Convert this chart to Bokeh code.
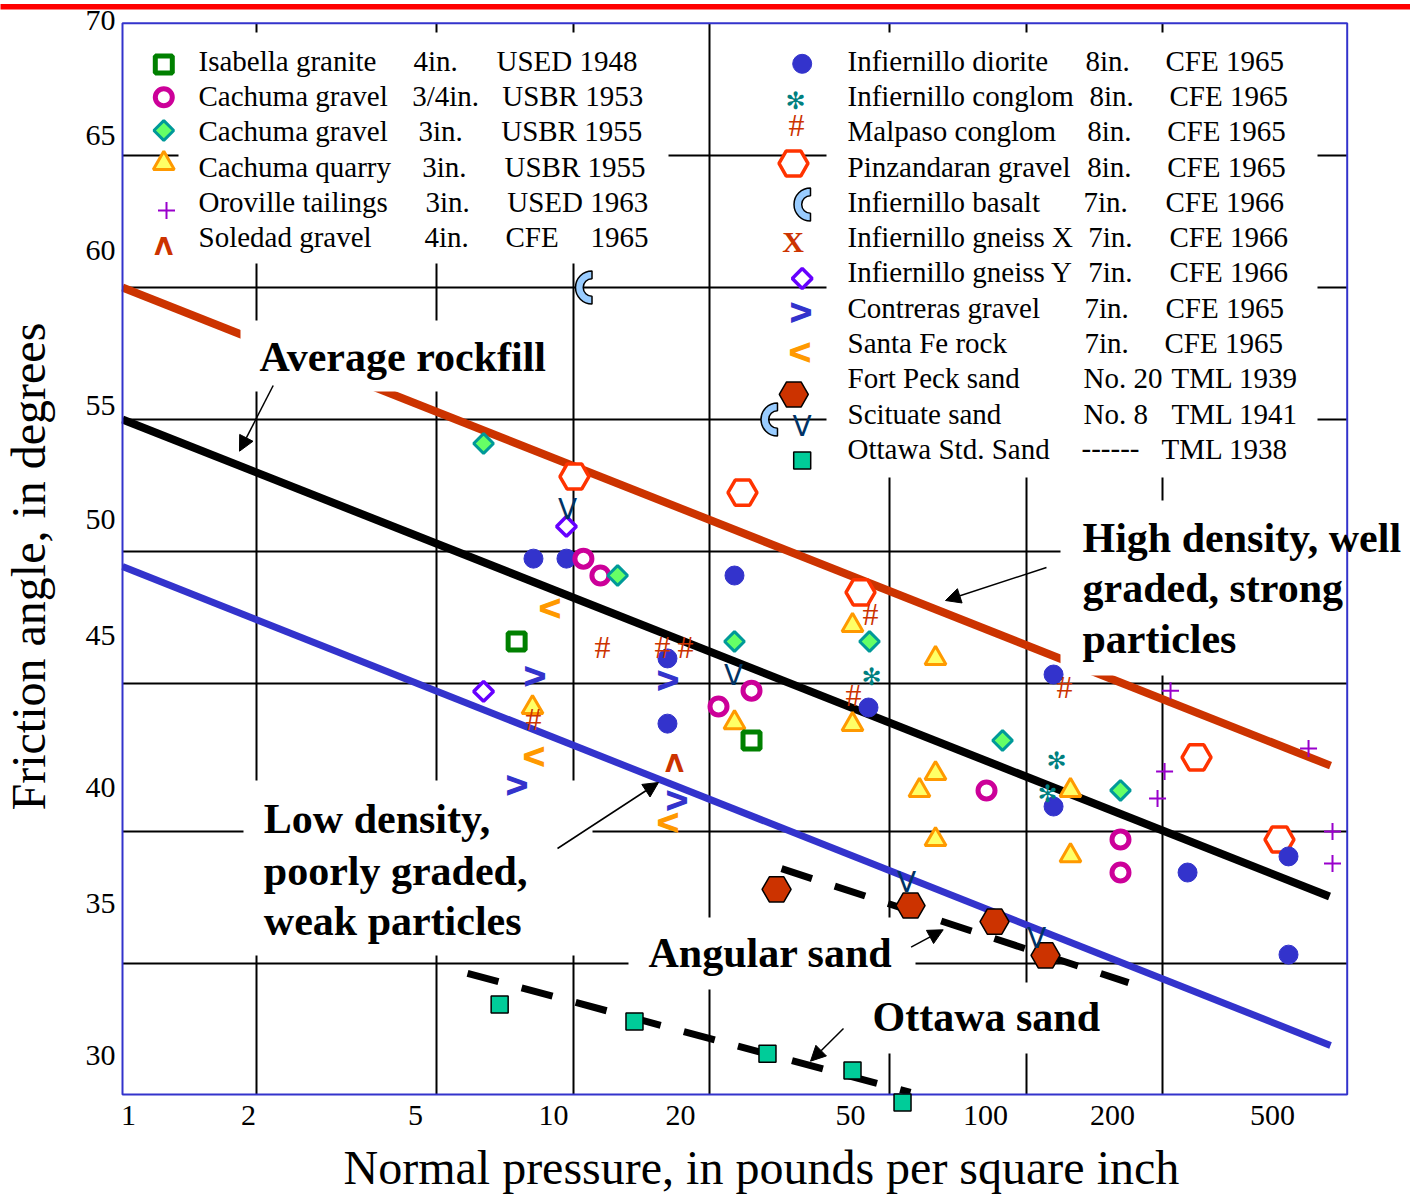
import numpy as np
from bokeh.plotting import figure
from bokeh.models import FixedTicker, Label, Arrow, NormalHead
from bokeh.core.properties import value
from bokeh.embed import file_html
from bokeh.resources import INLINE

# ---------------- data: normal pressure (psi) vs friction angle (deg) ----------------
isabella_x = [7.50, 24.74]
isabella_y = [46.59, 42.84]

cachuma34_x = [10.53, 11.48, 20.92, 24.74, 81.66, 161.3, 161.3]
cachuma34_y = [49.73, 49.09, 44.13, 44.73, 40.95, 39.09, 37.84]

cachuma3_x = [6.34, 12.53, 22.69, 45.06, 88.59, 161.3]
cachuma3_y = [54.09, 49.09, 46.59, 46.59, 42.84, 40.95]

quarry_x = [8.13, 22.69, 41.33, 63.01, 41.33, 63.01, 58.08, 125.1, 63.01, 125.1]
quarry_y = [44.09, 43.52, 47.20, 45.95, 43.45, 41.59, 40.95, 40.95, 39.09, 38.48]

oroville_x = [208.0, 419.4, 201.8, 194.7, 473.7, 473.7]
oroville_y = [44.73, 42.54, 41.67, 40.64, 39.39, 38.18]

soledad_x = [16.73]
soledad_y = [42.01]

diorite_x = [8.17, 9.66, 22.69, 16.14, 16.14, 44.83, 114.8, 114.8, 226.8, 378.8, 378.8]
diorite_y = [49.73, 49.73, 49.09, 45.95, 43.48, 44.09, 45.34, 40.34, 37.84, 38.45, 34.73]

conglom_x = [45.52, 116.6, 111.4]
conglom_y = [45.23, 42.08, 40.80]

malpaso_x = [11.60, 15.74, 17.69, 8.17, 45.29, 41.54, 121.4]
malpaso_y = [46.40, 46.40, 46.40, 43.67, 47.65, 44.55, 44.85]

pinzandaran_x = [10.06, 23.63, 43.04, 237.4, 361.8]
pinzandaran_y = [52.84, 52.23, 48.45, 42.20, 39.09]

basalt_x = [11.0, 28.23]
basalt_y = [60.0, 55.0]

gneissy_x = [9.66, 6.34]
gneissy_y = [50.95, 44.70]

contreras_x = [8.26, 16.22, 7.53, 16.99]
contreras_y = [45.27, 45.11, 41.14, 40.57]

santafe_x = [8.86, 8.17, 16.14]
santafe_y = [47.84, 42.23, 39.73]

fortpeck_x = [28.10, 55.50, 85.05, 110.2]
fortpeck_y = [37.20, 36.59, 35.98, 34.70]

scituate_x = [9.71, 22.58, 54.37, 105.3]
scituate_y = [51.59, 45.30, 37.46, 35.34]

ottawa_x = [6.88, 13.65, 26.83, 41.33, 53.29]
ottawa_y = [32.84, 32.20, 30.98, 30.34, 29.13]

# trend lines
high_x = [1.012, 469.0]
high_y = [60.0, 41.89]
avg_x = [1.012, 466.6]
avg_y = [55.0, 36.93]
low_x = [1.012, 469.0]
low_y = [49.43, 31.29]
angular_x = [28.82, 168.0]
angular_y = [37.99, 33.67]
ottline_x = [5.844, 55.50]
ottline_y = [34.02, 29.51]

# tick labels
XTICK_TEXT = ["1", "2", "5", "10", "20", "50", "100", "200", "500"]
YTICK_TEXT = ["70", "65", "60", "55", "50", "45", "40", "35", "30"]

# legend content
LEFT_NAMES = ["Isabella granite", "Cachuma gravel", "Cachuma gravel", "Cachuma quarry",
              "Oroville tailings", "Soledad gravel"]
LEFT_SIZES = ["4in.", "3/4in.", "3in.", "3in.", "3in.", "4in."]
LEFT_SRC = ["USED 1948", "USBR 1953", "USBR 1955", "USBR 1955", "USED 1963", "CFE"]
RIGHT_NAMES = ["Infiernillo diorite", "Infiernillo conglom", "Malpaso conglom", "Pinzandaran gravel",
               "Infiernillo basalt", "Infiernillo gneiss X", "Infiernillo gneiss Y", "Contreras gravel",
               "Santa Fe rock", "Fort Peck sand", "Scituate sand", "Ottawa Std. Sand"]
RIGHT_SIZES = ["8in.", "8in.", "8in.", "8in.", "7in.", "7in.", "7in.", "7in.", "7in.",
               "No. 20", "No. 8", "------"]
RIGHT_SRC = ["CFE 1965", "CFE 1965", "CFE 1965", "CFE 1965", "CFE 1966", "CFE 1966", "CFE 1966",
             "CFE 1965", "CFE 1965", "TML 1939", "TML 1941", "TML 1938"]

NOTES = ["Average rockfill", "High density, well", "graded, strong", "particles",
         "Low density,", "poorly graded,", "weak particles", "Angular sand", "Ottawa sand"]
X_TITLE = "Normal pressure, in pounds per square inch"
Y_TITLE = "Friction angle, in degrees"

# ---------------- layout helpers (canvas pixel -> data, placement only) ----------------
PX_X1 = 119.6
PX_DEC = 453.15
PX_Y70 = 23.0
PX_DEG = 26.4
W, H = 1410, 1194


def LX(px):
    return round(10 ** ((px - PX_X1) / PX_DEC), 5)


def LY(py):
    return round(70.0 - (py - PX_Y70) / PX_DEG, 4)


FONT = "Liberation Serif"
MID = 0.34  # em-box middle above the baseline

p = figure(width=W, height=H, x_axis_type="log",
           x_range=(LX(0), LX(W)), y_range=(LY(H), LY(0)),
           min_border_left=0, min_border_right=0, min_border_top=0, min_border_bottom=0,
           output_backend="svg", toolbar_location=None,
           background_fill_color="white", border_fill_color="white")
p.outline_line_color = None

# axes pinned to the edges of the plotting box
XTICK_PX = [128, 248, 415, 553, 680, 850, 985, 1112, 1272]
YTICK_PX = [20, 135, 250, 405, 519, 635, 787, 903, 1055]
xt = [LX(v) for v in XTICK_PX]
yt = [LY(v) for v in YTICK_PX]
p.xaxis.fixed_location = LY(1094)
p.yaxis.fixed_location = LX(122)
p.xaxis.ticker = FixedTicker(ticks=xt)
p.xaxis.major_label_overrides = {t: s for t, s in zip(xt, XTICK_TEXT)}
p.yaxis.ticker = FixedTicker(ticks=yt)
p.yaxis.major_label_overrides = {t: s for t, s in zip(yt, YTICK_TEXT)}
for ax in (p.xaxis[0], p.yaxis[0]):
    ax.major_tick_line_color = None
    ax.minor_tick_line_color = None
    ax.major_tick_out = 0
    ax.major_tick_in = 0
    ax.minor_tick_out = 0
    ax.minor_tick_in = 0
    ax.axis_line_color = None
    ax.major_label_text_font = FONT
    ax.major_label_text_font_size = "30px"
    ax.major_label_text_color = "black"
p.xaxis.major_label_standoff = 12
p.yaxis.major_label_standoff = 7

# grid, limited to the plotting box
p.xgrid.ticker = FixedTicker(ticks=[2, 5, 10, 20, 50, 100, 200])
p.ygrid.ticker = FixedTicker(ticks=[65, 60, 55, 50, 45, LY(831), LY(963)])
p.xgrid.cross_bounds = (LY(1094), LY(22.7))
p.ygrid.cross_bounds = (LX(122), LX(1346.7))
p.grid.grid_line_color = "black"
p.grid.grid_line_width = 2
p.grid.grid_line_alpha = 1.0

# trend lines
p.line(high_x, high_y, line_color="#cc3300", line_width=8)
p.line(avg_x, avg_y, line_color="black", line_width=8)
p.line(low_x, low_y, line_color="#3333cc", line_width=7)
p.line(angular_x, angular_y, line_color="black", line_width=7, line_dash="32 24")
p.line(ottline_x, ottline_y, line_color="black", line_width=7, line_dash="32 24")

# white boxes behind legend and notes
BOXES = [(178, 668, 32, 263), (826, 1317, 32, 477), (240, 565, 320, 391), (1060, 1400, 500, 675),
         (243, 592, 780, 955), (628, 915, 917, 989), (865, 1110, 982, 1053)]
# white masks outside the plotting box
BOXES += [(-20, W + 20, -20, 22), (-20, W + 20, 1095, H + 20), (-20, 121, -20, H + 20),
          (1348, W + 20, -20, H + 20)]
p.quad(left=[LX(b[0]) for b in BOXES], right=[LX(b[1]) for b in BOXES],
       top=[LY(b[2]) for b in BOXES], bottom=[LY(b[3]) for b in BOXES],
       fill_color="white", line_color=None)

# plotting box border and the red rule at the top
p.quad(left=[LX(122)], right=[LX(1346.7)], top=[LY(22.7)], bottom=[LY(1094)],
       fill_color=None, line_color="#3333cc", line_width=2)
p.quad(left=[LX(-20)], right=[LX(W + 20)], top=[LY(3.5)], bottom=[LY(9)],
       fill_color="#ff0000", line_color=None)

PI4 = np.pi / 4


def dot(x, y):
    p.scatter(x, y, marker="circle", size=19, fill_color="#3333cc", line_color="#3333cc", line_width=1)


def ring(x, y):
    p.scatter(x, y, marker="circle", size=17, fill_color="white", line_color="#cc0099", line_width=5)


def open_square(x, y):
    p.scatter(x, y, marker="square", size=17, fill_color="white", line_color="#008000", line_width=5)


def teal_diamond(x, y):
    p.scatter(x, y, marker="square", angle=PI4, size=14, fill_color="#66ff66", line_color="#009999",
              line_width=3)


def triangle(x, y):
    p.scatter(x, y, marker="triangle", size=21, fill_color="#ffff66", line_color="#ff9900", line_width=3)


def plus(x, y):
    p.scatter(x, y, marker="cross", size=17, line_color="#9900cc", line_width=2)


def violet_diamond(x, y):
    p.scatter(x, y, marker="square", angle=PI4, size=14, fill_color="white", line_color="#6600ff",
              line_width=3.5)


def open_hex(x, y):
    p.scatter(x, y, marker="hex", size=29, fill_color="white", line_color="#ff3300", line_width=3.5)


def solid_hex(x, y):
    p.scatter(x, y, marker="hex", size=29, fill_color="#cc3300", line_color="black", line_width=1.5)


def ottawa_sq(x, y):
    p.scatter(x, y, marker="square", size=17, fill_color="#00cc99", line_color="black", line_width=1.5)


def crescent(x, y):
    p.annular_wedge(x=x, y=y, inner_radius=8.8, outer_radius=16.5, inner_radius_units="screen",
                    outer_radius_units="screen", start_angle=np.pi / 2, end_angle=3 * np.pi / 2,
                    fill_color="#99ccff", line_color="black", line_width=1.5)


def char(x, y, ch, color, font, size, style="normal", angle=0.0):
    p.text(x=x, y=y, text=[ch] * len(x), text_color=color, text_font=value(font), text_font_size=size,
           text_font_style=style, angle=angle, text_align="center", text_baseline="middle")


def hashmark(x, y):
    char(x, y, "#", "#cc3300", FONT, "32px")


def asterisk(x, y):
    char(x, y, "\u273B", "#008080", "DejaVu Sans", "24px")


def caret_up(x, y):
    char(x, y, "V", "#cc3300", "DejaVu Sans", "24px", "bold", np.pi)


def chev_right(x, y):
    char(x, y, "V", "#3333cc", "DejaVu Sans", "27px", "bold", np.pi / 2)


def chev_left(x, y):
    char(x, y, "V", "#ff9900", "DejaVu Sans", "27px", "bold", -np.pi / 2)


def chev_down(x, y):
    char(x, y, "V", "#003366", "DejaVu Sans", "28px", "normal")


def big_x(x, y):
    char(x, y, "X", "#cc3300", FONT, "30px", "bold")


# data markers
open_hex(pinzandaran_x, pinzandaran_y)
solid_hex(fortpeck_x, fortpeck_y)
ottawa_sq(ottawa_x, ottawa_y)
dot(diorite_x, diorite_y)
ring(cachuma34_x, cachuma34_y)
teal_diamond(cachuma3_x, cachuma3_y)
triangle(quarry_x, quarry_y)
open_square(isabella_x, isabella_y)
plus(oroville_x, oroville_y)
violet_diamond(gneissy_x, gneissy_y)
hashmark(malpaso_x, malpaso_y)
asterisk(conglom_x, conglom_y)
caret_up(soledad_x, soledad_y)
chev_right(contreras_x, contreras_y)
chev_left(santafe_x, santafe_y)
chev_down(scituate_x, scituate_y)
crescent(basalt_x, basalt_y)

# legend symbols
open_square([LX(163.3)], [LY(64)])
ring([LX(163.3)], [LY(96.7)])
teal_diamond([LX(163.3)], [LY(130)])
triangle([LX(163.3)], [LY(163)])
plus([LX(166)], [LY(210)])
caret_up([LX(163.3)], [LY(245)])

dot([LX(801.7)], [LY(63.3)])
asterisk([LX(795)], [LY(100)])
hashmark([LX(796)], [LY(125)])
open_hex([LX(793)], [LY(163)])
crescent([LX(810)], [LY(204)])
big_x([LX(792.7)], [LY(240.7)])
violet_diamond([LX(801.7)], [LY(278)])
chev_right([LX(801)], [LY(312)])
chev_left([LX(799)], [LY(352)])
solid_hex([LX(793.3)], [LY(394)])
chev_down([LX(801.7)], [LY(426)])
ottawa_sq([LX(801.7)], [LY(460)])

# legend text (baselines in canvas px)
LEG_FS = 29
LEFT_BASE = [70 + 35.33 * i for i in range(6)]
RIGHT_BASE = [70 + 35.3 * i for i in range(12)]
LEFT_SIZE_PX = [413, 411.7, 418, 421.7, 425, 424]
LEFT_SRC_PX = [496, 501.7, 500.7, 504, 506.7, 505]
RIGHT_SIZE_PX = [1085, 1089, 1086.7, 1086.7, 1083, 1087.7, 1087.7, 1084, 1084, 1083, 1083, 1081]
RIGHT_SRC_PX = [1165, 1169, 1166.7, 1166.7, 1165, 1169, 1169, 1165, 1164, 1171, 1171, 1161]

tx, ty, tt = [], [], []
for i in range(6):
    yy = LY(LEFT_BASE[i] - MID * LEG_FS)
    tx += [LX(198), LX(LEFT_SIZE_PX[i]), LX(LEFT_SRC_PX[i])]
    ty += [yy] * 3
    tt += [LEFT_NAMES[i], LEFT_SIZES[i], LEFT_SRC[i]]
tx.append(LX(590))
ty.append(LY(LEFT_BASE[5] - MID * LEG_FS))
tt.append("1965")
for i in range(12):
    yy = LY(RIGHT_BASE[i] - MID * LEG_FS)
    tx += [LX(847), LX(RIGHT_SIZE_PX[i]), LX(RIGHT_SRC_PX[i])]
    ty += [yy] * 3
    tt += [RIGHT_NAMES[i], RIGHT_SIZES[i], RIGHT_SRC[i]]
p.text(x=tx, y=ty, text=tt, text_font=value(FONT), text_font_size="%dpx" % LEG_FS, text_color="black",
       text_align="left", text_baseline="middle")

# notes (bold)
NOTE_FS = 42
NOTE_PX = [(259, 371), (1082, 551.7), (1082, 601.7), (1082, 653), (263.3, 832.7), (263.3, 885),
           (263.3, 935), (648, 966.7), (872, 1030.7)]
for txt, (px, py) in zip(NOTES, NOTE_PX):
    p.add_layout(Label(x=LX(px), y=LY(py - MID * NOTE_FS), text=txt, text_font=FONT,
                       text_font_size="%dpx" % NOTE_FS, text_font_style="bold", text_color="black",
                       text_align="left", text_baseline="middle"))

ARROWS = [((272.7, 385), (239, 450.7)), ((1046, 567), (945, 600)), ((557, 848), (658, 782)),
          ((910.6, 946.7), (942.7, 929.3)), ((843, 1028), (810, 1060.7))]
for (sx, sy), (ex, ey) in ARROWS:
    p.add_layout(Arrow(end=NormalHead(size=15, fill_color="black", line_color="black", line_width=1),
                       x_start=LX(sx), y_start=LY(sy), x_end=LX(ex), y_end=LY(ey),
                       line_color="black", line_width=1.5))

# axis titles
TITLE_FS = 48
p.add_layout(Label(x=LX(343), y=LY(1183 - MID * TITLE_FS), text=X_TITLE, text_font=FONT,
                   text_font_size="%dpx" % TITLE_FS, text_color="black", text_align="left",
                   text_baseline="middle"))
p.add_layout(Label(x=LX(44.5 - MID * TITLE_FS), y=LY(810), text=Y_TITLE, text_font=FONT,
                   text_font_size="%dpx" % TITLE_FS, text_color="black", text_align="left",
                   text_baseline="middle", angle=np.pi / 2))

open("out.html", "w").write(file_html(p, INLINE))
